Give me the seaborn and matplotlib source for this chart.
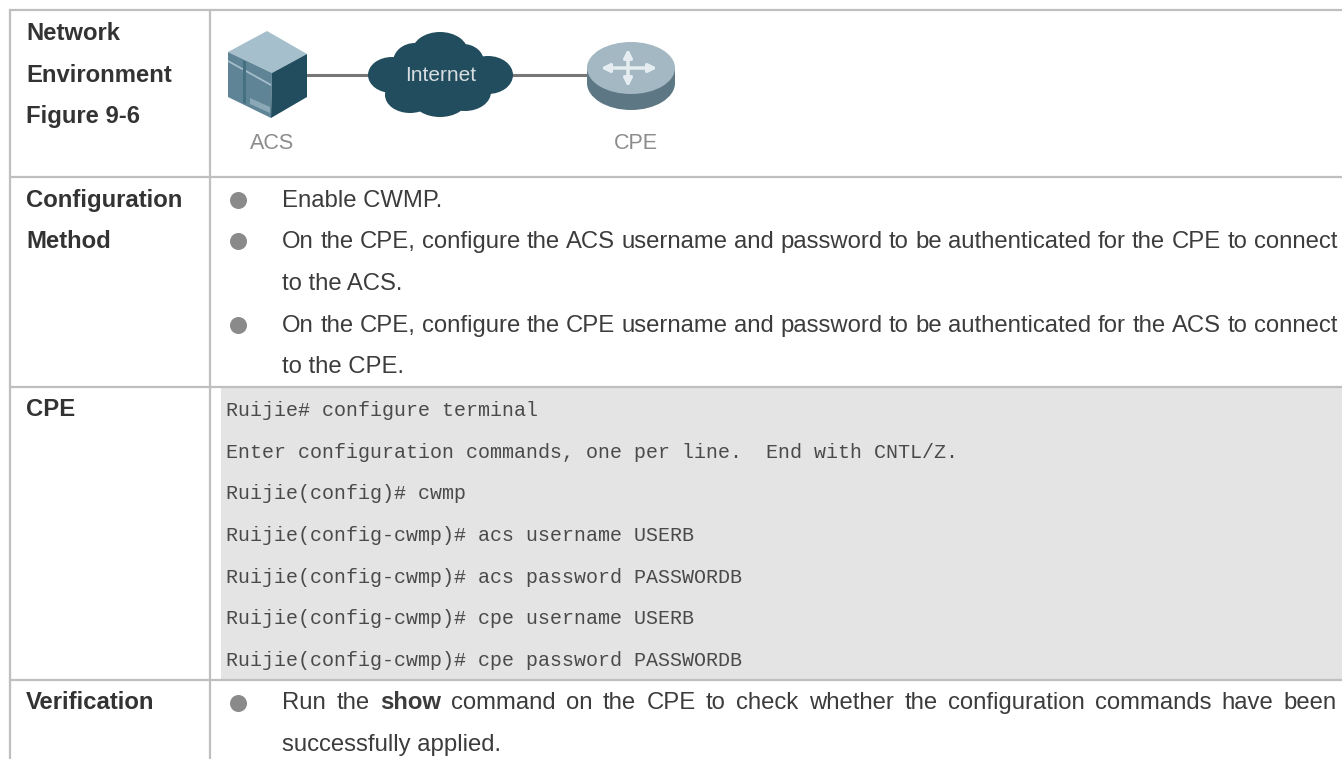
import matplotlib
matplotlib.use('Agg')
import matplotlib.pyplot as plt
from matplotlib.patches import Ellipse, Polygon, Rectangle
import seaborn as sns

# 表格内容
section_labels = ['Network', 'Environment', 'Figure 9-6', 'Configuration', 'Method', 'CPE', 'Verification']
method_lines = [
    'Enable CWMP.',
    'On the CPE, configure the ACS username and password to be authenticated for the CPE to connect',
    'to the ACS.',
    'On the CPE, configure the CPE username and password to be authenticated for the ACS to connect',
    'to the CPE.',
]
method_bullets = [True, True, False, True, False]
method_justified = [False, True, False, True, False]
cli_lines = [
    'Ruijie# configure terminal',
    'Enter configuration commands, one per line.  End with CNTL/Z.',
    'Ruijie(config)# cwmp',
    'Ruijie(config-cwmp)# acs username USERB',
    'Ruijie(config-cwmp)# acs password PASSWORDB',
    'Ruijie(config-cwmp)# cpe username USERB',
    'Ruijie(config-cwmp)# cpe password PASSWORDB',
]
verify_line = 'Run the show command on the CPE to check whether the configuration commands have been'
verify_bold = 'show'
verify_tail = 'successfully applied.'
node_labels = ['ACS', 'Internet', 'CPE']

W, H = 1342, 759
RULE = '#bfbfbf'
INK = '#3c3c3c'
TEAL = '#224d5e'
FS = 17.2

sns.set_theme(style='white')
plt.rcParams['font.family'] = ['Liberation Sans', 'DejaVu Sans']

fig = plt.figure(figsize=(W / 100, H / 100), dpi=100)
ax = fig.add_axes([0, 0, 1, 1])
ax.set_xlim(0, W)
ax.set_ylim(H, 0)
ax.axis('off')


def put_justified(words, x0, x1, y, bold_word=None):
    # 两端对齐：先量每个词的宽度，再平均分配空隙
    renderer = fig.canvas.get_renderer()
    items = []
    for w in words:
        weight = 'bold' if w == bold_word else 'normal'
        items.append(ax.text(0, y, w, fontsize=FS, color=INK, weight=weight, va='baseline'))
    widths = [t.get_window_extent(renderer).width for t in items]
    gap = (x1 - x0 - sum(widths)) / (len(words) - 1)
    x = x0
    for t, wd in zip(items, widths):
        t.set_x(x)
        x += wd + gap


# 灰色命令行背景
ax.add_patch(Rectangle((221, 388), W - 221, 291, color='#e4e4e4', lw=0, zorder=0))

# 表格线
ax.hlines([10, 177, 387, 679.5], 9, W, color=RULE, lw=1.6, zorder=1)
ax.vlines([10, 210], 9, H, color=RULE, lw=1.6, zorder=1)

# 左列标题
label_y = [40, 82, 123, 207, 248, 416, 709]
for s, y in zip(section_labels, label_y):
    ax.text(26, y, s, fontsize=FS, weight='bold', color='#333333', va='baseline')

# 配置方法
method_y = [207, 248, 290, 332, 373]
for s, y, just in zip(method_lines, method_y, method_justified):
    if just:
        put_justified(s.split(' '), 282, 1337, y)
    else:
        ax.text(282, y, s, fontsize=FS, color=INK, va='baseline')

# 项目符号
bullet_y = [y - 7 for y, b in zip(method_y, method_bullets) if b] + [703]
sns.scatterplot(x=[238] * len(bullet_y), y=bullet_y, s=150, color='#8a8a8a', linewidth=0, ax=ax, legend=False)

# 命令行
for i, s in enumerate(cli_lines):
    ax.text(226, 416 + i * 41.7, s, fontsize=14.4, family='Liberation Mono', color='#4a4a4a', va='baseline')

# 验证
put_justified(verify_line.split(' '), 282, 1337, 709, bold_word=verify_bold)
ax.text(282, 751, verify_tail, fontsize=FS, color=INK, va='baseline')

# 拓扑图：连线
ax.hlines(75, 305, 590, color='#777777', lw=2.2, zorder=2)

# ACS 机箱
ax.add_patch(Polygon([(267, 31), (307, 54), (272, 73), (228, 52)], color='#a6bfcc', lw=0, zorder=3))
ax.add_patch(Polygon([(228, 52), (272, 73), (271, 118), (228, 97)], color='#5f8496', lw=0, zorder=3))
ax.add_patch(Polygon([(272, 73), (307, 54), (307, 97), (271, 118)], color=TEAL, lw=0, zorder=3))
ax.add_patch(Polygon([(228, 60), (271, 84), (271, 86), (228, 62)], color='#a6bfcc', lw=0, zorder=4))
ax.add_patch(Polygon([(243, 60), (246, 62), (246, 104), (243, 103)], color='#44707f', lw=0, zorder=4))
ax.add_patch(Polygon([(250, 98), (270, 107), (270, 113), (250, 104)], color='#8aa8b5', lw=0, zorder=4))

# 云
cloud = [(392, 75, 48, 36), (415, 62, 44, 38), (440, 52, 56, 40), (463, 62, 42, 36),
         (488, 75, 50, 38), (465, 92, 52, 38), (440, 100, 54, 34), (410, 95, 50, 36)]
for cx, cy, w, h in cloud:
    ax.add_patch(Ellipse((cx, cy), w, h, color=TEAL, lw=0, zorder=3))
ax.add_patch(Rectangle((395, 60), 90, 40, color=TEAL, lw=0, zorder=3))
ax.text(441, 81, node_labels[1], fontsize=15, color='#d5dde1', ha='center', va='baseline', zorder=5)

# CPE 路由器
ax.add_patch(Ellipse((631, 83), 88, 54, color='#5d7785', lw=0, zorder=3))
ax.add_patch(Rectangle((587, 68), 88, 15, color='#5d7785', lw=0, zorder=3))
ax.add_patch(Ellipse((631, 68), 88, 52, color='#a3b8c2', lw=0, zorder=4))
ax.annotate('', xy=(598, 68), xytext=(660, 68), arrowprops=dict(arrowstyle='<|-|>', color='#e6edf0', lw=2.5), zorder=5)
ax.annotate('', xy=(628, 46), xytext=(628, 90), arrowprops=dict(arrowstyle='<|-|>', color='#e6edf0', lw=2.5), zorder=5)

ax.text(272, 149, node_labels[0], fontsize=15.5, color='#8c8c8c', ha='center', va='baseline')
ax.text(636, 149, node_labels[2], fontsize=15.5, color='#8c8c8c', ha='center', va='baseline')

ax.set_xlim(0, W)
ax.set_ylim(H, 0)
fig.savefig('out.png', dpi=100)
